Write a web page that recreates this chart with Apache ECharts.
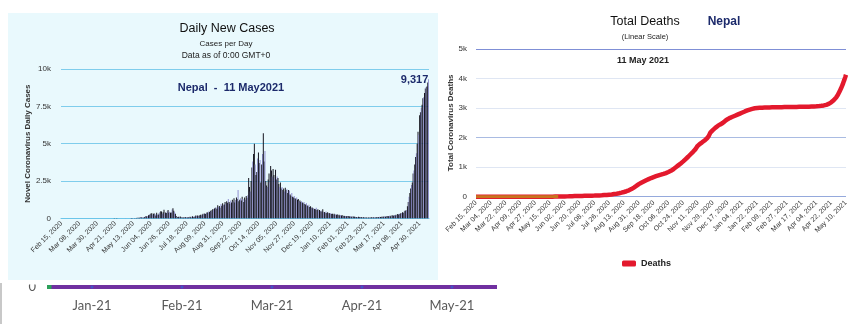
<!DOCTYPE html>
<html><head><meta charset="utf-8">
<script src="https://cdn.jsdelivr.net/npm/echarts@6/dist/echarts.min.js"></script>
<style>html,body{margin:0;padding:0;background:#fff}#c{width:858px;height:324px}</style>
</head><body><div id="c"></div>
<script>
// ---------- DATA ----------
// Daily new cases, Nepal, one value per day from Feb 15, 2020
const casesValues = [
0,0,0,0,0,0,0,0,0,0,
0,0,0,0,0,0,0,0,0,0,
0,0,0,0,0,0,0,0,0,0,
0,0,0,0,0,0,0,1,0,0,
1,0,0,1,1,0,0,0,1,0,
0,0,0,0,0,0,0,2,0,2,
2,1,1,0,0,12,0,1,12,0,
4,3,2,1,2,0,1,2,0,16,
3,0,11,2,9,15,16,16,27,9,
12,25,21,33,40,37,34,86,75,36,
93,45,91,120,160,102,152,208,237,288,
323,334,215,298,323,283,195,364,253,240,
319,415,468,448,311,403,580,345,392,352,
480,560,370,431,372,384,583,670,509,420,
300,150,110,90,106,70,120,80,65,55,
60,50,85,70,95,60,65,75,104,68,
100,130,95,140,112,180,150,190,175,160,
210,240,190,260,300,280,320,290,350,410,
380,450,420,500,470,560,620,580,650,700,
720,640,880,760,830,700,950,840,1000,880,
920,1100,980,1150,1040,1300,1100,980,1200,1050,
1250,1130,1340,1050,1220,1400,1300,1900,1150,1250,
1350,1200,1450,1300,1100,1400,1250,1500,1380,1550,
2700,2100,1800,2500,3400,3800,4300,5000,3600,2900,
3100,4000,4400,3700,3900,2400,3600,4300,5700,3800,
4500,2500,2200,2100,2600,3000,2400,3500,3200,2800,
3300,2900,2700,3250,2600,2800,2700,2300,2100,2400,
2000,2100,1900,2000,1800,2050,1900,1950,1700,1900,
1850,1600,1500,1700,1450,1400,1500,1350,1300,1400,
1250,1300,1150,1200,1100,1150,1050,1000,1100,950,
900,1000,850,800,900,750,800,700,720,650,
680,620,600,700,550,600,500,560,480,520,
450,600,400,430,380,450,350,400,330,360,
300,350,280,310,260,300,240,270,230,250,
210,230,190,220,180,200,160,170,150,160,
140,150,130,160,120,130,110,120,105,115,
100,110,90,95,85,100,80,90,75,85,
60,70,55,65,50,60,45,55,50,60,
55,65,50,70,60,80,55,65,70,85,
85,100,90,110,95,120,100,130,110,140,
120,150,130,170,140,180,160,200,170,220,
190,230,210,280,250,300,280,350,330,400,
380,450,500,520,560,800,1100,1450,1700,2000,
2230,2400,3000,3200,3600,4100,4350,5000,5800,5600,
6900,7100,7400,7600,8040,8100,8400,8700,8800,8820,
9100,9317
];
// Cumulative deaths, Nepal, one value per day from Feb 15, 2020
const deathsValues = [
0,0,0,0,0,0,0,0,0,0,
0,0,0,0,0,0,0,0,0,0,
0,0,0,0,0,0,0,0,0,0,
0,0,0,0,0,0,0,0,0,0,
0,0,0,0,0,0,0,0,0,0,
0,0,0,0,0,0,0,0,0,0,
0,0,0,0,0,0,0,0,0,0,
0,0,0,0,0,0,0,0,0,0,
0,0,0,0,0,0,0,0,0,1,
1,1,2,2,2,3,3,3,3,4,
4,4,5,5,6,6,7,8,9,10,
11,11,12,13,14,15,16,17,18,19,
20,21,22,22,23,24,25,26,26,27,
28,29,29,30,31,31,32,33,34,35,
36,36,37,38,38,39,40,41,42,43,
44,45,47,48,50,52,54,56,58,60,
62,65,68,70,73,76,80,84,88,92,
96,100,105,110,115,120,128,136,145,152,
160,168,176,185,195,205,215,228,242,258,
275,292,310,328,345,365,385,405,425,442,
458,472,486,500,515,530,545,558,572,584,
596,608,620,632,643,654,664,674,684,694,
703,712,721,730,738,746,754,762,771,780,
790,800,811,822,835,848,862,877,893,910,
930,950,972,994,1016,1038,1060,1082,1104,1126,
1148,1172,1196,1222,1248,1274,1300,1326,1352,1380,
1408,1436,1464,1492,1520,1548,1575,1610,1650,1700,
1740,1760,1780,1800,1820,1840,1860,1884,1905,1930,
1955,1976,2010,2050,2100,2171,2200,2230,2255,2280,
2305,2330,2355,2377,2395,2412,2430,2446,2462,2478,
2496,2514,2540,2565,2590,2610,2625,2640,2655,2670,
2682,2694,2706,2718,2730,2742,2754,2766,2778,2790,
2802,2814,2826,2838,2850,2862,2874,2886,2898,2910,
2920,2930,2940,2950,2958,2966,2974,2982,2988,2994,
2998,3000,3002,3004,3006,3008,3010,3012,3013,3014,
3015,3016,3017,3018,3019,3020,3021,3022,3022,3023,
3024,3024,3025,3026,3026,3027,3028,3028,3029,3030,
3030,3031,3031,3032,3032,3033,3033,3034,3034,3035,
3035,3036,3036,3037,3037,3038,3038,3039,3039,3040,
3040,3041,3041,3042,3042,3043,3043,3044,3044,3045,
3045,3046,3046,3047,3047,3048,3049,3050,3051,3052,
3053,3054,3055,3057,3059,3061,3063,3066,3069,3072,
3076,3080,3085,3090,3096,3103,3110,3118,3127,3143,
3160,3175,3195,3215,3240,3265,3290,3320,3355,3395,
3440,3495,3550,3610,3670,3725,3800,3880,3955,4040,
4127
];
const casesTickLabels = ['0','2.5k','5k','7.5k','10k'];
const deathsTickLabels = ['0','1k','2k','3k','4k','5k'];
const stripMonths = ['Jan-21','Feb-21','Mar-21','Apr-21','May-21'];
const stripValues = [0,0,0,0,0];
const earlyDays = 101; // portion of deaths line drawn in orange underneath colour

const MONTHS = ['Jan','Feb','Mar','Apr','May','Jun','Jul','Aug','Sep','Oct','Nov','Dec'];
function dateLabels(y, m, d, count) {
  const out = [];
  for (let i = 0; i < count; i++) {
    const dt = new Date(Date.UTC(y, m - 1, d + i));
    out.push(MONTHS[dt.getUTCMonth()] + ' ' + String(dt.getUTCDate()).padStart(2, '0') + ', ' + dt.getUTCFullYear());
  }
  return out;
}
const casesCategories = dateLabels(2020, 2, 15, casesValues.length);
const deathsCategories = dateLabels(2020, 2, 15, deathsValues.length);

const chart = echarts.init(document.getElementById('c'), null, {renderer: 'canvas'});
const navy = '#1c2a6b';
const option = {
  animation: false,
  backgroundColor: '#ffffff',
  graphic: [
    {type: 'rect', z: -10, shape: {x: 8, y: 13, width: 430, height: 267}, style: {fill: '#e9f9fd'}},
    {type: 'line', z: -10, shape: {x1: 1, y1: 283, x2: 1, y2: 324}, style: {stroke: '#c8c8c8', lineWidth: 2}},
    {type: 'text', style: {text: 'Daily New Cases', x: 227, y: 29, align: 'center', verticalAlign: 'middle', font: '12.5px "Liberation Sans"', fill: '#111'}},
    {type: 'text', style: {text: 'Cases per Day', x: 226, y: 44, align: 'center', verticalAlign: 'middle', font: '8px "Liberation Sans"', fill: '#222'}},
    {type: 'text', style: {text: 'Data as of 0:00 GMT+0', x: 226, y: 56, align: 'center', verticalAlign: 'middle', font: '8.5px "Liberation Sans"', fill: '#222'}},
    {type: 'text', style: {text: 'Nepal  -  11 May2021', x: 231, y: 88, align: 'center', verticalAlign: 'middle', font: 'bold 11px "Liberation Sans"', fill: navy}},
    {type: 'text', style: {text: 'Total Deaths', x: 645, y: 22, align: 'center', verticalAlign: 'middle', font: '12.5px "Liberation Sans"', fill: '#111'}},
    {type: 'text', style: {text: 'Nepal', x: 724, y: 22, align: 'center', verticalAlign: 'middle', font: 'bold 12px "Liberation Sans"', fill: navy}},
    {type: 'text', style: {text: '(Linear Scale)', x: 645, y: 37, align: 'center', verticalAlign: 'middle', font: '7.5px "Liberation Sans"', fill: '#222'}},
    {type: 'text', style: {text: '11 May 2021', x: 643, y: 61, align: 'center', verticalAlign: 'middle', font: 'bold 9px "Liberation Sans"', fill: '#222'}},
    {type: 'rect', z: 100, shape: {x: 18, y: 280, width: 26, height: 4.5}, style: {fill: '#ffffff'}}
  ],
  legend: {
    data: ['Deaths'], left: 617, top: 254, itemWidth: 14, itemHeight: 6, icon: 'roundRect',
    textStyle: {fontFamily: 'Liberation Sans', fontWeight: 'bold', fontSize: 9, color: '#222'}
  },
  grid: [
    {left: 61, top: 69, width: 368, height: 149.3},
    {left: 476, top: 49, width: 370, height: 147.7},
    {left: 47, top: 286, width: 450, height: 1}
  ],
  xAxis: [
    {type: 'category', gridIndex: 0, data: casesCategories,
     axisLine: {lineStyle: {color: '#6cc6ea', width: 1}}, axisTick: {show: false},
     axisLabel: {interval: 21, rotate: 45, fontSize: 7, color: '#333', fontFamily: 'Liberation Sans', margin: 4}},
    {type: 'category', gridIndex: 1, data: deathsCategories, boundaryGap: false,
     axisLine: {show: false}, axisTick: {show: false},
     axisLabel: {interval: 17, rotate: 45, fontSize: 7, color: '#333', fontFamily: 'Liberation Sans', margin: 5}},
    {type: 'category', gridIndex: 2, data: stripMonths,
     axisLine: {show: false}, axisTick: {show: false},
     axisLabel: {fontSize: 13, color: '#595959', fontFamily: 'Lato', margin: 12}},
    {type: 'value', gridIndex: 2, min: 0, max: 1, show: false}
  ],
  yAxis: [
    {type: 'value', gridIndex: 0, min: 0, max: 10000, interval: 2500,
     name: 'Novel Coronavirus Daily Cases', nameLocation: 'middle', nameGap: 28,
     nameTextStyle: {fontSize: 8, fontWeight: 'bold', color: '#333', fontFamily: 'Liberation Sans'},
     axisLine: {show: false}, axisTick: {show: false},
     splitLine: {lineStyle: {color: '#7fcdec'}},
     axisLabel: {fontSize: 8, color: '#333', fontFamily: 'Liberation Sans', margin: 10,
       formatter: v => casesTickLabels[Math.round(v / 2500)]}},
    {type: 'value', gridIndex: 1, min: 0, max: 5000, interval: 1000,
     name: 'Total Coronavirus Deaths', nameLocation: 'middle', nameGap: 20,
     nameTextStyle: {fontSize: 8, fontWeight: 'bold', color: '#333', fontFamily: 'Liberation Sans'},
     axisLine: {show: false}, axisTick: {show: false},
     splitLine: {lineStyle: {color: ['#95a9dc', '#dfe6f3', '#a9bbe2', '#dfe6f3', '#dfe6f3', '#7f8fd6']}},
     axisLabel: {fontSize: 8, color: '#333', fontFamily: 'Liberation Sans', margin: 9,
       formatter: v => deathsTickLabels[Math.round(v / 1000)]}},
    {type: 'value', gridIndex: 2, min: 0, max: 1, interval: 1,
     axisLine: {show: false}, axisTick: {show: false}, splitLine: {show: false},
     axisLabel: {fontSize: 13, color: '#595959', fontFamily: 'Lato', margin: 11,
       formatter: v => (v === 0 ? '0' : '')}}
  ],
  series: [
    {type: 'bar', name: 'Cases', xAxisIndex: 0, yAxisIndex: 0, data: casesValues, barWidth: 1,
     itemStyle: {color: p => (p.dataIndex % 3 === 1 ? '#8f8fcf' : '#15151f')},
     markPoint: {symbol: 'circle', symbolSize: 0, data: [{type: 'max'}],
       label: {show: true, position: 'inside', offset: [-14, 1], formatter: p => p.value.toLocaleString('en-US'),
         fontFamily: 'Liberation Sans', fontWeight: 'bold', fontSize: 11, color: navy}}},
    {type: 'line', name: 'Deaths', xAxisIndex: 1, yAxisIndex: 1, data: deathsValues,
     symbol: 'none', color: '#e3192d', lineStyle: {width: 4.5, color: '#e3192d'}},
    {type: 'line', name: 'early', xAxisIndex: 1, yAxisIndex: 1, data: deathsValues.slice(0, earlyDays),
     symbol: 'none', lineStyle: {width: 3, color: '#c8741e'}},
    {type: 'line', name: 'strip', xAxisIndex: 3, yAxisIndex: 2, data: [[0, 0], [1, 0]],
     symbol: 'none', lineStyle: {width: 4, color: '#7030a0'}},
    {type: 'line', name: 'stripStart', xAxisIndex: 3, yAxisIndex: 2, data: [[0, 0], [0.01, 0]],
     symbol: 'none', lineStyle: {width: 4, color: '#2ca05a'}},
    {type: 'scatter', name: 'stripTicks', xAxisIndex: 2, yAxisIndex: 2, data: stripValues,
     symbolSize: 3, itemStyle: {color: '#3a5ad0'}, z: 5}
  ]
};
chart.setOption(option);
</script>
</body></html>
